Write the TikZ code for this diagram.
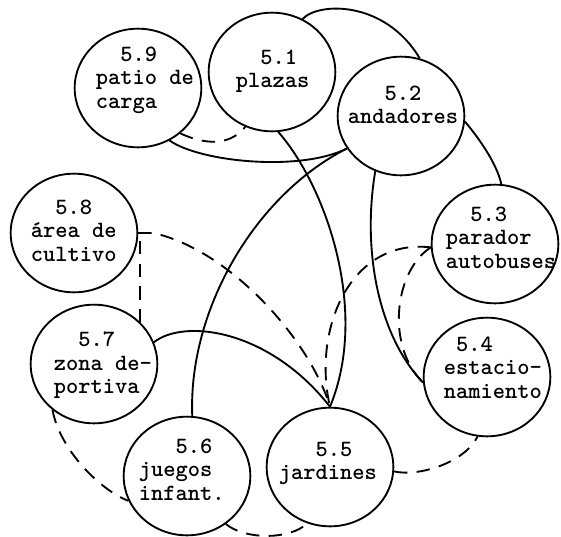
\documentclass[tikz,border=0pt]{standalone}
\usepackage{tikz}
\usetikzlibrary{shapes.geometric}

\tikzset{every picture/.style={line width=1.4pt}}
\tikzset{
	zone/.style={draw, ellipse, minimum width=95pt, minimum height=89pt, inner sep=0pt},
	zonetext/.style={anchor=north west, inner sep=0pt, align=left,
		font={\fontsize{17.5pt}{17.6pt}\selectfont\ttfamily\bfseries}},
	link/.style={dash pattern={on 10pt off 7pt}}}

\begin{document}
\begin{tikzpicture}[x=0.75pt,y=0.75pt,yscale=-1,xscale=1]
	\useasboundingbox (0,0) rectangle (561,536);

	%Shape: Circle
	\node [zone] (n59) at (138,88) {};
	%Shape: Circle
	\node [zone] (n51) at (272,72) {};
	%Shape: Circle
	\node [zone] (n52) at (401,116) {};
	%Shape: Circle
	\node [zone] (n53) at (495,244) {};
	%Shape: Circle
	\node [zone] (n54) at (487,377) {};
	%Shape: Circle
	\node [zone] (n55) at (330,467) {};
	%Shape: Circle
	\node [zone] (n56) at (187,476) {};
	%Shape: Circle
	\node [zone] (n57) at (94,364) {};
	%Shape: Circle
	\node [zone] (n58) at (74,233) {};

	%Curve Lines
	\draw (n51.60) .. controls (318,2) and (385,0) .. (n52.72) ;
	%Curve Lines
	\draw (n52.-5) .. controls (482,142) and (497,165) .. (n53.84) ;
	%Curve Lines
	\draw (n59.-59) .. controls (200,162) and (300,172) .. (n52.211) ;
	%Curve Lines
	\draw (n56.85) .. controls (188,310) and (255,195) .. (n52.211) ;
	%Curve Lines
	\draw (n51.276) .. controls (325,185) and (370,310) .. (n55.90) ;
	%Curve Lines
	\draw (n52.245) .. controls (362,250) and (378,335) .. (n54.185) ;
	%Curve Lines
	\draw (n57.20) .. controls (185,318) and (270,330) .. (n55.90) ;

	%Curve Lines
	\draw [link] (n59.-47) .. controls (212,148) and (233,142) .. (n51.244) ;
	%Curve Lines
	\draw [link] (n58.0) -- ++(15,0) .. controls (230,250) and (310,340) .. (n55.90) ;
	%Straight Lines
	\draw [link] (n57.42) |- (n58.0) ;
	%Curve Lines
	\draw [link] (n53.183) .. controls (350,238) and (312,330) .. (n55.90) ;
	%Curve Lines
	\draw [link] (n53.183) .. controls (395,270) and (385,345) .. (n54.185) ;
	%Curve Lines
	\draw [link] (n55.-4) .. controls (420,477) and (465,462) .. (n54.261) ;
	%Curve Lines
	\draw [link] (n56.-51) .. controls (245,540) and (290,540) .. (n55.248) ;
	%Curve Lines
	\draw [link] (n57.228) .. controls (60,450) and (100,490) .. (n56.203) ;

	% Text Node
	\node [zonetext] (t59) at (95,46) {\phantom{00}5.9\\patio de\\carga};
	% Text Node
	\node [zonetext] (t51) at (235,49) {\phantom{00}5.1\\plazas};
	% Text Node
	\node [zonetext] (t52) at (347,85) {\phantom{000}5.2\\andadores};
	% Text Node
	\node [zonetext] (t58) at (30,199) {\phantom{00}5.8\\área de\\cultivo};
	% Text Node
	\node [zonetext] (t53) at (445,206) {\phantom{00}5.3\\parador\\autobuses};
	% Text Node
	\node [zonetext] (t57) at (53,331) {\phantom{00}5.7\\zona de-\\portiva};
	% Text Node
	\node [zonetext] (t54) at (443,336) {\phantom{0}5.4\\estacio-\\namiento};
	% Text Node
	\node [zonetext] (t56) at (138,438) {\phantom{000}5.6\\juegos\\infant.};
	% Text Node
	\node [zonetext] (t55) at (278,441) {\phantom{000}5.5\\jardines};

\end{tikzpicture}
\end{document}
